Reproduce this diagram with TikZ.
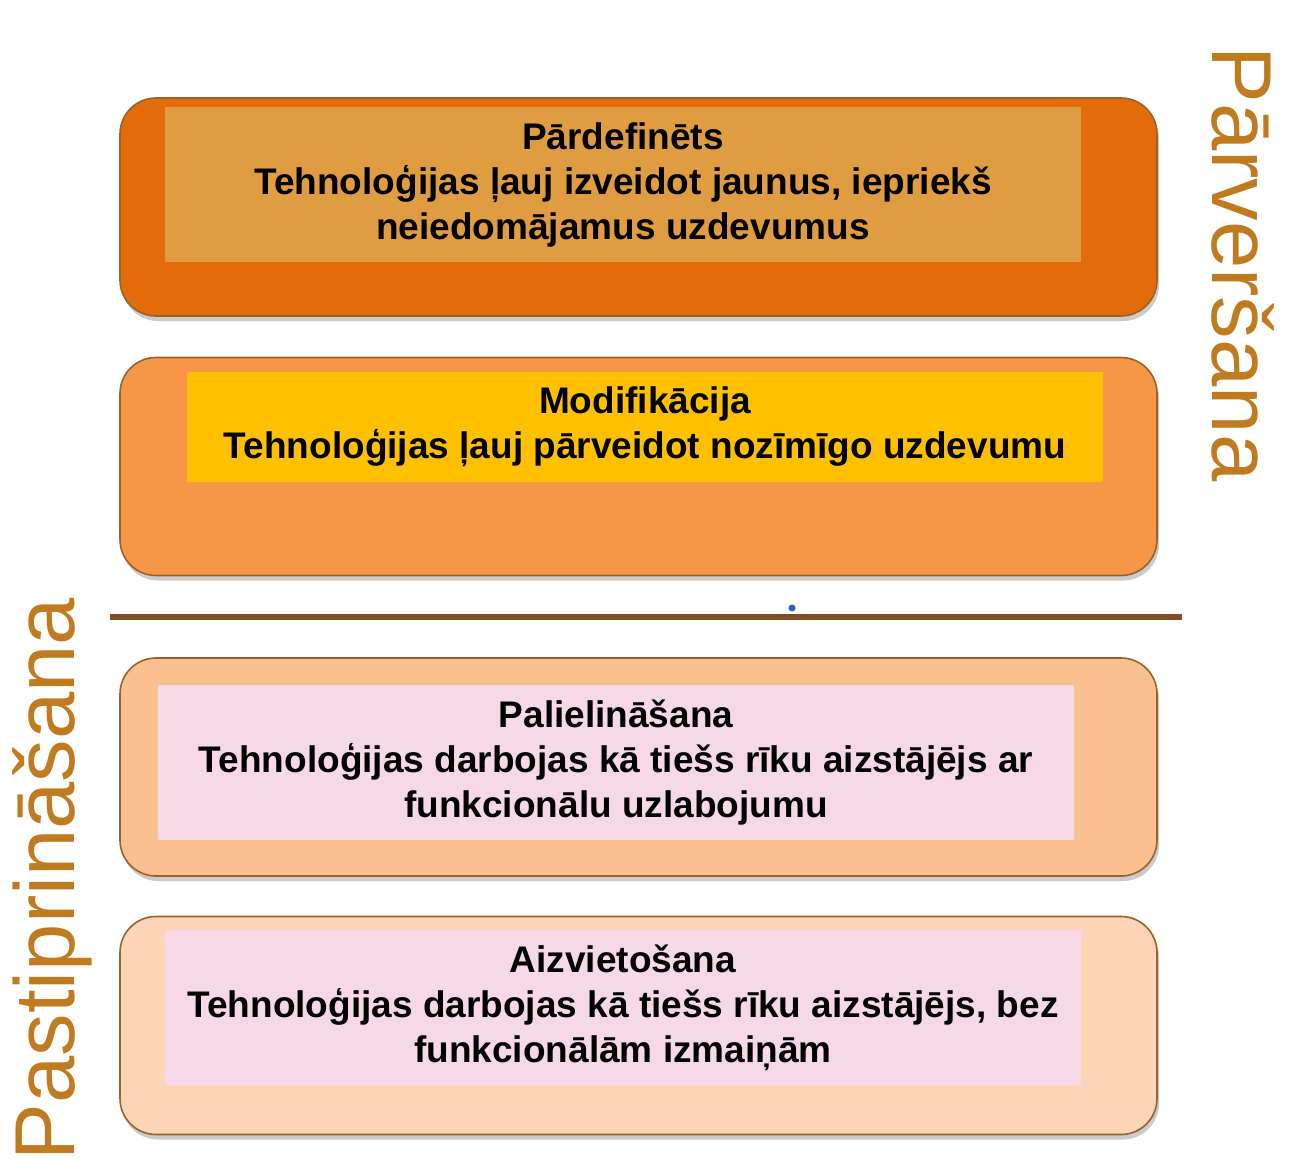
\documentclass[tikz,border=0pt]{standalone}
\usepackage{fontspec}
\setmainfont{Liberation Sans}
\usetikzlibrary{shadows}
\definecolor{bandA}{HTML}{E36C0A}
\definecolor{innerA}{HTML}{E09C40}
\definecolor{bandB}{HTML}{F79646}
\definecolor{innerB}{HTML}{FFC000}
\definecolor{bandC}{HTML}{FAC090}
\definecolor{bandD}{HTML}{FBD5B5}
\definecolor{innerPink}{HTML}{F6D8E6}
\definecolor{rimBrown}{HTML}{9A6228}
\definecolor{sideText}{HTML}{C07A1F}
\definecolor{divider}{HTML}{7E4E22}
\definecolor{dotBlue}{HTML}{2F5FC0}
\begin{document}
\begin{tikzpicture}[x=1pt,y=-1pt,
  band/.style={draw=rimBrown, line width=1.6pt, rounded corners=36pt,
    minimum width=1037pt, minimum height=218pt, inner sep=0pt,
    drop shadow={shadow xshift=2pt, shadow yshift=-5pt, fill=black!45, opacity=.45}},
  panel/.style={inner sep=0pt, minimum width=916pt, align=center,
    font=\bfseries\fontsize{37}{45}\selectfont},
  sidelabel/.style={text=sideText, font=\fontsize{85}{85}\selectfont, inner sep=0pt}]
\useasboundingbox[fill=white] (0,0) rectangle (1289,1159);
% bands
\node[band, fill=bandA] (b1) at (638.5,207) {};
\node[band, fill=bandB] (b2) at (638.5,466.5) {};
\node[band, fill=bandC] (b3) at (638.5,767) {};
\node[band, fill=bandD] (b4) at (638.5,1025.5) {};
% inner panels
\node[panel, fill=innerA, minimum height=155pt] (p1) at (623,184.5)
  {Pārdefinēts\\Tehnoloģijas ļauj izveidot jaunus, iepriekš\\neiedomājamus uzdevumus};
\node[panel, fill=innerB, minimum height=110pt] (p2) at (645,427)
  {Modifikācija\\Tehnoloģijas ļauj pārveidot nozīmīgo uzdevumu};
\node[panel, fill=innerPink, minimum height=155pt] (p3) at (616,762.5)
  {Palielināšana\\Tehnoloģijas darbojas kā tiešs rīku aizstājējs ar\\funkcionālu uzlabojumu};
\node[panel, fill=innerPink, minimum height=155pt] (p4) at (623,1007.5)
  {Aizvietošana\\Tehnoloģijas darbojas kā tiešs rīku aizstājējs, bez\\funkcionālām izmaiņām};
% divider
\coordinate (dl) at (110,617);
\coordinate (dr) at (1182,617);
\draw[divider, line width=6pt] (dl) -- (dr);
\fill[dotBlue] (792,608) circle (3.5pt);
% side labels
\node[sidelabel, rotate=-90] (top) at (1243,264) {Pārveršana};
\node[sidelabel, rotate=90] (bot) at (52,879) {Pastiprināšana};
\end{tikzpicture}
\end{document}
